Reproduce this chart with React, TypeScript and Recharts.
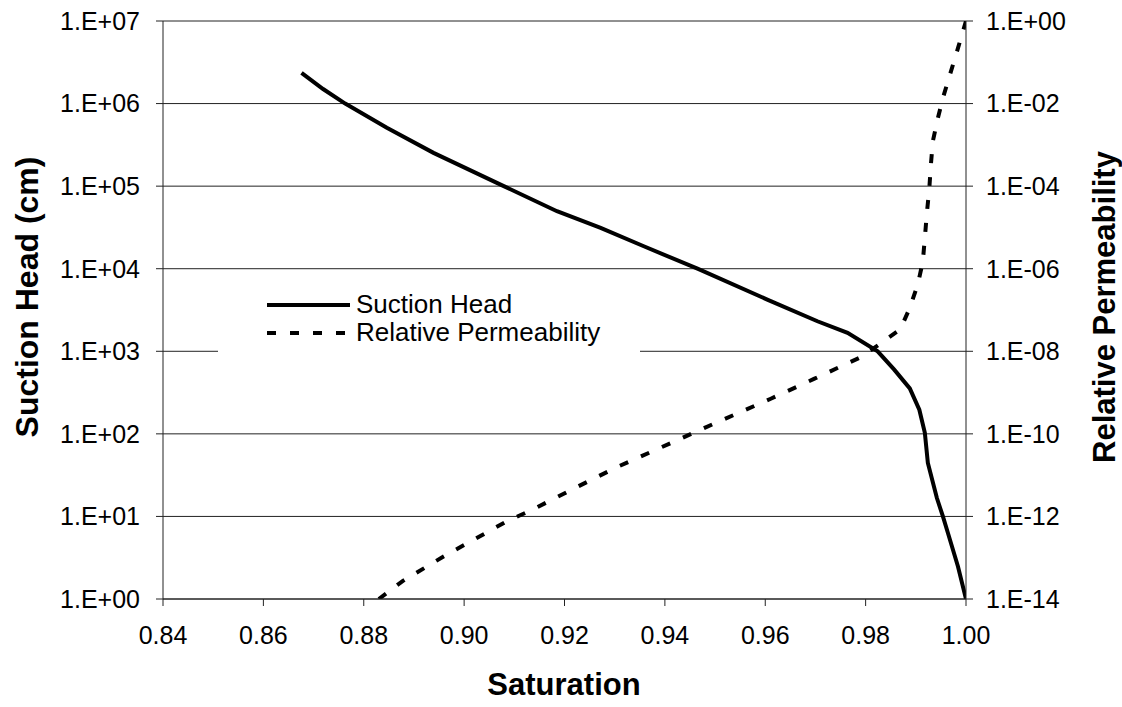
import React from 'react';
import { LineChart, Line, XAxis, YAxis, CartesianGrid, Legend, Label } from 'recharts';

// Suction head curve (left axis)
const suctionSaturation = [0.8676, 0.8719, 0.8763, 0.8846, 0.8939, 0.9079, 0.9185, 0.9272, 0.9358, 0.9465, 0.9604, 0.9704, 0.9764, 0.9824, 0.9857, 0.9888, 0.9907, 0.9918, 0.9924, 0.9942, 0.9954, 0.9964, 0.9984, 1.0];
const suctionHead = [2.36e6, 1.5e6, 1.0e6, 5.1e5, 2.53e5, 1.0e5, 4.97e4, 3.13e4, 1.87e4, 1.0e4, 4.23e3, 2.31e3, 1.67e3, 1.0e3, 6.0e2, 3.55e2, 1.96e2, 1.03e2, 4.45e1, 1.67e1, 1.0e1, 6.3, 2.48, 1.0];

// Relative permeability curve (right axis)
const permSaturation = [0.883, 0.8878, 0.8959, 0.9002, 0.9085, 0.9132, 0.9215, 0.9305, 0.9391, 0.9478, 0.9611, 0.9697, 0.9787, 0.9831, 0.9869, 0.9887, 0.9904, 0.9914, 0.9918, 0.9922, 0.9927, 0.993, 0.9934, 0.9944, 0.9955, 0.997, 0.9984, 1.0];
const relPermeability = [1.0e-14, 2.75e-14, 1.07e-13, 2.1e-13, 7.6e-13, 1.38e-12, 4.5e-12, 1.58e-11, 4.6e-11, 1.38e-10, 7.1e-10, 2.14e-9, 6.9e-9, 1.58e-8, 3.4e-8, 1.05e-7, 4.2e-7, 1.5e-6, 5.6e-6, 2.2e-5, 9.1e-5, 3.3e-4, 1.23e-3, 4.5e-3, 1.5e-2, 6.0e-2, 0.22, 1.0];

const xTicks = [0.84, 0.86, 0.88, 0.9, 0.92, 0.94, 0.96, 0.98, 1.0];
const xTickLabels = ['0.84', '0.86', '0.88', '0.90', '0.92', '0.94', '0.96', '0.98', '1.00'];
const leftTicks = [1, 1e1, 1e2, 1e3, 1e4, 1e5, 1e6, 1e7];
const leftTickLabels = ['1.E+00', '1.E+01', '1.E+02', '1.E+03', '1.E+04', '1.E+05', '1.E+06', '1.E+07'];
const rightTicks = [1e-14, 1e-12, 1e-10, 1e-8, 1e-6, 1e-4, 1e-2, 1];
const rightTickLabels = ['1.E-14', '1.E-12', '1.E-10', '1.E-08', '1.E-06', '1.E-04', '1.E-02', '1.E+00'];

const seriesNames = ['Suction Head', 'Relative Permeability'];

const suctionData = suctionSaturation.map((s, i) => ({ s, h: suctionHead[i] }));
const permData = permSaturation.map((s, i) => ({ s, k: relPermeability[i] }));

const pick = (ticks: number[], labels: string[]) => (v: number) => {
  const idx = ticks.findIndex((t) => Math.abs(t - v) <= Math.abs(t) * 1e-6);
  return idx >= 0 ? labels[idx] : String(v);
};

const FONT = '"Liberation Sans", Arial, sans-serif';
const AX = '#222';

const LegendBox = (props: any) => {
  const items = [...(props.payload || [])].sort(
    (a: any, b: any) => seriesNames.indexOf(a.value) - seriesNames.indexOf(b.value)
  );
  return (
    <div style={{ width: 422, height: 86, background: '#fff' }}>
      <svg width={422} height={86}>
        {items.map((it: any, i: number) => {
          const y = 33 + i * 28;
          return (
            <g key={i}>
              <line x1={49} x2={132} y1={y} y2={y} stroke="#000" strokeWidth={4}
                strokeDasharray={it.payload && it.payload.strokeDasharray ? it.payload.strokeDasharray : undefined} />
              <text x={138} y={y - 1} dominantBaseline="central" fontSize={26} fontFamily={FONT} fill="#000">{it.value}</text>
            </g>
          );
        })}
      </svg>
    </div>
  );
};

export default function App() {
  return (
    <div style={{ position: 'absolute', left: 0, top: 0, width: 1122, height: 707, background: '#fff' }}>
      <LineChart width={1122} height={707} margin={{ top: 21, right: 0, left: 0, bottom: 0 }} style={{ fontFamily: FONT }}>
        <CartesianGrid yAxisId="left" vertical={false} stroke={AX} strokeWidth={1} />
        <XAxis
          dataKey="s"
          type="number"
          domain={[0.84, 1.0]}
          ticks={xTicks}
          tickFormatter={pick(xTicks, xTickLabels)}
          interval={0}
          height={108}
          allowDataOverflow
          tickSize={7}
          tickMargin={20}
          tick={{ fill: '#000', fontSize: 25, fontFamily: FONT }}
          axisLine={{ stroke: AX }}
          tickLine={{ stroke: AX }}
        >
          <Label content={() => (
            <text x={564} y={684} textAnchor="middle" dominantBaseline="central" fontSize={31} fontWeight="bold" fontFamily={FONT} fill="#000">Saturation</text>
          )} />
        </XAxis>
        <YAxis
          yAxisId="left"
          scale="log"
          domain={[1, 1e7]}
          ticks={leftTicks}
          tickFormatter={pick(leftTicks, leftTickLabels)}
          interval={0}
          width={163}
          allowDataOverflow
          tickSize={7}
          tickMargin={16}
          tick={{ fill: '#000', fontSize: 25, fontFamily: FONT }}
          axisLine={{ stroke: AX }}
          tickLine={{ stroke: AX }}
        >
          <Label content={() => (
            <text x={27} y={297} transform="rotate(-90 27 297)" textAnchor="middle" dominantBaseline="central" fontSize={32} fontWeight="bold" fontFamily={FONT} fill="#000">Suction Head (cm)</text>
          )} />
        </YAxis>
        <YAxis
          yAxisId="right"
          orientation="right"
          scale="log"
          domain={[1e-14, 1]}
          ticks={rightTicks}
          tickFormatter={pick(rightTicks, rightTickLabels)}
          interval={0}
          width={156}
          allowDataOverflow
          tickSize={7}
          tickMargin={13}
          tick={{ fill: '#000', fontSize: 25, fontFamily: FONT }}
          axisLine={{ stroke: AX }}
          tickLine={{ stroke: AX }}
        >
          <Label content={() => (
            <text x={1104} y={307} transform="rotate(-90 1104 307)" textAnchor="middle" dominantBaseline="central" fontSize={31} fontWeight="bold" fontFamily={FONT} fill="#000">Relative Permeability</text>
          )} />
        </YAxis>
        <Legend
          layout="vertical"
          align="center"
          verticalAlign="middle"
          wrapperStyle={{ left: 218, top: 272, width: 422, height: 86 }}
          content={LegendBox}
        />
        <Line
          name="Suction Head"
          data={suctionData}
          dataKey="h"
          yAxisId="left"
          type="linear"
          stroke="#000"
          strokeWidth={4}
          dot={false}
          activeDot={false}
          isAnimationActive={false}
        />
        <Line
          name="Relative Permeability"
          data={permData}
          dataKey="k"
          yAxisId="right"
          type="linear"
          stroke="#000"
          strokeWidth={4}
          strokeDasharray="9 14"
          dot={false}
          activeDot={false}
          isAnimationActive={false}
        />
      </LineChart>
    </div>
  );
}
